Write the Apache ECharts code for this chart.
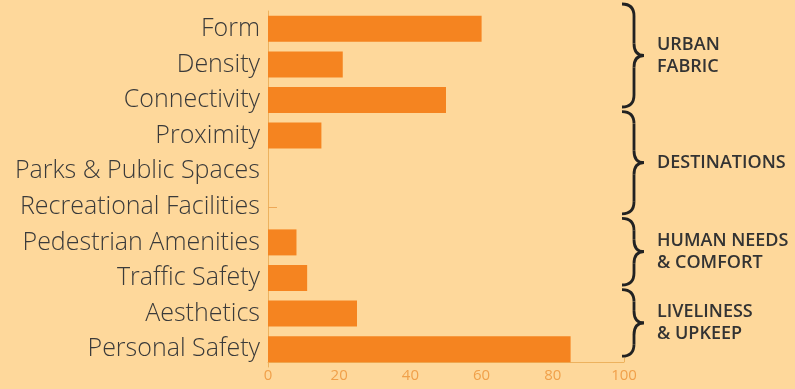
<!DOCTYPE html>
<html>
<head>
<meta charset="utf-8">
<script src="https://cdn.jsdelivr.net/npm/echarts@6/dist/echarts.min.js"></script>
<style>
  html, body { margin: 0; padding: 0; background: #FED89B; }
  #chart { width: 795px; height: 389px; }
</style>
</head>
<body>
<div id="chart"></div>
<script>
var categories = ['Form', 'Density', 'Connectivity', 'Proximity', 'Parks & Public Spaces',
    'Recreational Facilities', 'Pedestrian Amenities', 'Traffic Safety', 'Aesthetics', 'Personal Safety'];
var values = [60, 21, 50, 15, 0, 0, 8, 11, 25, 85];
var xTicks = [0, 20, 40, 60, 80, 100];

// group braces: [first category index, last category index, label]
var groups = [
    [0, 2, 'URBAN\nFABRIC'],
    [3, 5, 'DESTINATIONS'],
    [6, 7, 'HUMAN NEEDS\n& COMFORT'],
    [8, 9, 'LIVELINESS\n& UPKEEP']
];

var chart = echarts.init(document.getElementById('chart'));

var option = {
    backgroundColor: '#FED89B',
    animation: false,
    grid: { left: 268, right: 171, top: 11, bottom: 22 },
    xAxis: {
        type: 'value',
        min: 0,
        max: 100,
        interval: 20,
        offset: -5,
        splitLine: { show: false },
        axisLine: { show: true, lineStyle: { color: '#EDB25E', width: 1 } },
        axisTick: { show: true, inside: true, length: 4, lineStyle: { color: '#EDB25E' } },
        axisLabel: {
            color: '#F0A04A',
            fontFamily: 'Open Sans',
            fontSize: 15,
            margin: 6,
            customValues: xTicks
        }
    },
    yAxis: {
        type: 'category',
        data: categories,
        inverse: true,
        axisLine: { show: true, lineStyle: { color: '#EDB25E', width: 1 } },
        // the lone small mark next to Recreational Facilities
        axisTick: {
            show: true,
            inside: true,
            length: 9,
            alignWithLabel: true,
            interval: function (index) { return index === 5; },
            lineStyle: { color: '#EDA858' }
        },
        axisLabel: {
            color: '#3A3A3A',
            fontFamily: 'Open Sans',
            fontWeight: 300,
            fontSize: 25,
            margin: 8
        }
    },
    series: [
        {
            type: 'bar',
            data: values,
            barWidth: 26,
            itemStyle: { color: '#F58420' }
        }
    ]
};

chart.setOption(option);

// braces and group names, placed from the category axis
function brace(x0, y0, y1) {
    var xm = x0 + 12, x2 = x0 + 22, r = 12, ym = (y0 + y1) / 2;
    var st = { stroke: '#222', lineWidth: 2.8, fill: null };
    return [
        { type: 'bezierCurve', shape: { x1: x0, y1: y0, cpx1: xm, cpy1: y0, x2: xm, y2: y0 + r }, style: st },
        { type: 'line', shape: { x1: xm, y1: y0 + r, x2: xm, y2: ym - r }, style: st },
        { type: 'bezierCurve', shape: { x1: xm, y1: ym - r, cpx1: xm, cpy1: ym, x2: x2, y2: ym }, style: st },
        { type: 'bezierCurve', shape: { x1: x2, y1: ym, cpx1: xm, cpy1: ym, x2: xm, y2: ym + r }, style: st },
        { type: 'line', shape: { x1: xm, y1: ym + r, x2: xm, y2: y1 - r }, style: st },
        { type: 'bezierCurve', shape: { x1: xm, y1: y1 - r, cpx1: xm, cpy1: y1, x2: x0, y2: y1 }, style: st }
    ];
}

var elements = [];
groups.forEach(function (g) {
    var top = chart.convertToPixel({ yAxisIndex: 0 }, categories[g[0]]) - 24;
    var bottom = chart.convertToPixel({ yAxisIndex: 0 }, categories[g[1]]) + 7;
    if (g[0] === 0) top = 4;
    var mid = (top + bottom) / 2;
    elements = elements.concat(brace(622, top, bottom));
    elements.push({
        type: 'text',
        x: 657,
        y: mid,
        style: {
            text: g[2],
            fill: '#333',
            font: '600 18px "Open Sans"',
            lineHeight: 22,
            verticalAlign: 'middle'
        }
    });
});
chart.setOption({ graphic: elements });
</script>
</body>
</html>
